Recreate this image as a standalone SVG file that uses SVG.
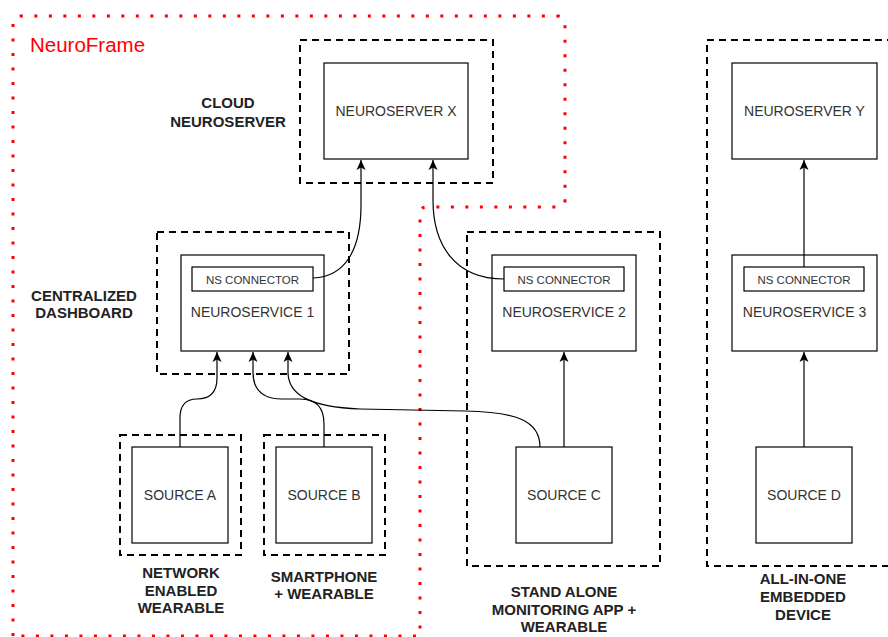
<svg xmlns="http://www.w3.org/2000/svg" width="888" height="637" viewBox="0 0 888 637">
  <defs>
    <marker id="arrow" markerUnits="userSpaceOnUse" markerWidth="12" markerHeight="12" viewBox="0 0 12 12" refX="11" refY="6" orient="auto">
      <path d="M1,1.5 L11,6 L1,10.5 L3.5,6 Z" fill="#000"/>
    </marker>
  </defs>
  <style>
    .frame { fill: none; stroke: #ff0000; stroke-width: 3; stroke-dasharray: 3 11.5; stroke-linejoin: round; }
    .group { fill: none; stroke: #000; stroke-width: 2; stroke-dasharray: 7 5; }
    .box { fill: #fff; stroke: #000; stroke-width: 1.2; }
    .node-text { font-family: "Liberation Sans", Arial, sans-serif; font-size: 14px; fill: #333; text-anchor: middle; }
    .conn-text { font-family: "Liberation Sans", Arial, sans-serif; font-size: 11.5px; fill: #333; text-anchor: middle; }
    .label { font-family: "Liberation Sans", Arial, sans-serif; font-size: 15px; font-weight: bold; fill: #222; text-anchor: middle; }
    .edge { fill: none; stroke: #000; stroke-width: 1.2; marker-end: url(#arrow); }
  </style>
  <rect width="888" height="637" fill="#fff"/>

  <!-- NeuroFrame boundary -->
  <g id="neuroframe">
    <path class="frame" d="M13,636 L13,24 Q13,16 21,16 L557,16 Q565,16 565,24 L565,200 Q565,207 558,207 L427,207 Q420,207 420,214 L420,636 Z"/>
    <text x="30" y="52" font-family="'Liberation Sans', Arial, sans-serif" font-size="20.5" fill="#ff0000">NeuroFrame</text>
  </g>

  <!-- Cloud neuroserver -->
  <g id="cloud-neuroserver">
    <rect class="group" x="300" y="40" width="193" height="143"/>
    <text class="label" x="228" y="108">CLOUD</text>
    <text class="label" x="228" y="127">NEUROSERVER</text>
  </g>
  <g id="neuroserver-x">
    <rect class="box" x="324" y="63" width="144" height="96"/>
    <text class="node-text" x="396" y="116">NEUROSERVER X</text>
  </g>

  <!-- Centralized dashboard -->
  <g id="centralized-dashboard">
    <rect class="group" x="157" y="232" width="192" height="142"/>
    <text class="label" x="84" y="301">CENTRALIZED</text>
    <text class="label" x="84" y="318">DASHBOARD</text>
  </g>
  <g id="neuroservice-1">
    <rect class="box" x="181" y="255" width="143" height="96"/>
    <rect class="box" x="192" y="267" width="121" height="24"/>
    <text class="conn-text" x="252.5" y="284">NS CONNECTOR</text>
    <text class="node-text" x="252.5" y="317">NEUROSERVICE 1</text>
  </g>

  <!-- Network enabled wearable -->
  <g id="network-enabled-wearable">
    <rect class="group" x="120" y="435" width="121" height="120"/>
    <text class="label" x="181" y="578">NETWORK</text>
    <text class="label" x="181" y="596">ENABLED</text>
    <text class="label" x="181" y="613">WEARABLE</text>
  </g>
  <g id="source-a">
    <rect class="box" x="132" y="447" width="96" height="96"/>
    <text class="node-text" x="180" y="500">SOURCE A</text>
  </g>

  <!-- Smartphone + wearable -->
  <g id="smartphone-wearable">
    <rect class="group" x="264" y="435" width="121" height="120"/>
    <text class="label" x="324" y="582">SMARTPHONE</text>
    <text class="label" x="324" y="599">+ WEARABLE</text>
  </g>
  <g id="source-b">
    <rect class="box" x="276" y="447" width="96" height="96"/>
    <text class="node-text" x="324" y="500">SOURCE B</text>
  </g>

  <!-- Stand alone monitoring app + wearable -->
  <g id="stand-alone">
    <rect class="group" x="467" y="232" width="193" height="334"/>
    <text class="label" x="564" y="597">STAND ALONE</text>
    <text class="label" x="564" y="615">MONITORING APP +</text>
    <text class="label" x="564" y="632">WEARABLE</text>
  </g>
  <g id="neuroservice-2">
    <rect class="box" x="492" y="255" width="144" height="96"/>
    <rect class="box" x="504" y="267" width="120" height="24"/>
    <text class="conn-text" x="564" y="284">NS CONNECTOR</text>
    <text class="node-text" x="564" y="317">NEUROSERVICE 2</text>
  </g>
  <g id="source-c">
    <rect class="box" x="516" y="447" width="96" height="96"/>
    <text class="node-text" x="564" y="500">SOURCE C</text>
  </g>

  <!-- All-in-one embedded device -->
  <g id="all-in-one">
    <rect class="group" x="707" y="40" width="200" height="526"/>
    <text class="label" x="803" y="584">ALL-IN-ONE</text>
    <text class="label" x="803" y="602">EMBEDDED</text>
    <text class="label" x="803" y="620">DEVICE</text>
  </g>
  <g id="neuroserver-y">
    <rect class="box" x="732" y="63" width="145" height="96"/>
    <text class="node-text" x="804.5" y="116">NEUROSERVER Y</text>
  </g>
  <g id="neuroservice-3">
    <rect class="box" x="732" y="255" width="145" height="96"/>
    <rect class="box" x="744" y="267" width="120" height="24"/>
    <text class="conn-text" x="804" y="284">NS CONNECTOR</text>
    <text class="node-text" x="804.5" y="317">NEUROSERVICE 3</text>
  </g>
  <g id="source-d">
    <rect class="box" x="756" y="447" width="96" height="96"/>
    <text class="node-text" x="804" y="500">SOURCE D</text>
  </g>

  <!-- Connectors -->
  <g id="connectors">
    <path class="edge" d="M313,278 C345,277 361,250 361,205 L361,160"/>
    <path class="edge" d="M504,279 C455,279 433,245 433,200 L433,160"/>
    <path class="edge" d="M180,447 L180,418 Q180,399 197,399 Q217,399 217,378 L217,352"/>
    <path class="edge" d="M324,447 L324,424 Q324,399 300,399 L282,399 Q253,399 253,372 L253,352"/>
    <path class="edge" d="M540,447 C540,420 515,412 465,411 L360,409 C310,407 288,395 288,372 L288,352"/>
    <path class="edge" d="M564,447 L564,352"/>
    <path class="edge" d="M804,267 L804,160"/>
    <path class="edge" d="M804,447 L804,352"/>
  </g>
</svg>
